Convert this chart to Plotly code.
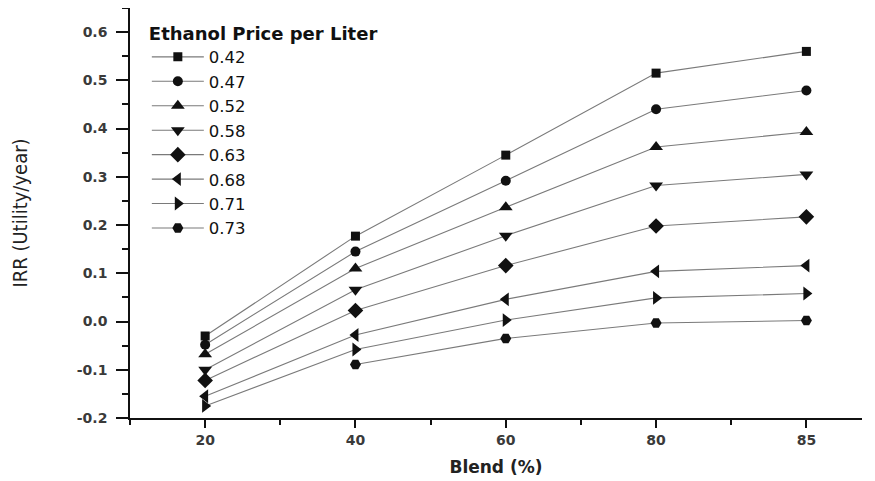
import plotly.graph_objects as go

blend_labels = ["20", "40", "60", "80", "85"]
prices = ["0.42", "0.47", "0.52", "0.58", "0.63", "0.68", "0.71", "0.73"]
irr_042 = [-0.030, 0.177, 0.345, 0.515, 0.560]
irr_047 = [-0.048, 0.145, 0.292, 0.440, 0.479]
irr_052 = [-0.068, 0.110, 0.237, 0.362, 0.393]
irr_058 = [-0.100, 0.066, 0.178, 0.282, 0.305]
irr_063 = [-0.122, 0.023, 0.116, 0.198, 0.217]
irr_068 = [-0.155, -0.028, 0.046, 0.104, 0.116]
irr_071 = [-0.175, -0.058, 0.003, 0.049, 0.058]
irr_073 = [None, -0.089, -0.035, -0.003, 0.002]

series = [irr_042, irr_047, irr_052, irr_058, irr_063, irr_068, irr_071, irr_073]
symbols = ["square", "circle", "triangle-up", "triangle-down", "diamond",
           "triangle-left", "triangle-right", "hexagon2"]
sizes = [9, 10, 12, 12, 12, 12, 12, 11]

xpos = list(range(len(blend_labels)))

fig = go.Figure()
for name, vals, sym, sz in zip(prices, series, symbols, sizes):
    fig.add_trace(go.Scatter(
        x=xpos, y=vals, name=name, mode="lines+markers",
        line=dict(color="#7a7a7a", width=1.1),
        marker=dict(symbol=sym, size=sz, color="#111111"),
        connectgaps=False, cliponaxis=False,
    ))

tickfont = dict(size=14, color="#3a3a3a", family="DejaVu Sans", weight="bold")

# the page body adds an 8px offset, so the figure is sized to fit the remaining window
fig.update_layout(
    width=867, height=473,
    margin=dict(l=122, r=13, t=0, b=63),
    paper_bgcolor="white", plot_bgcolor="white",
    font=dict(family="DejaVu Sans", color="#222222"),
    legend=dict(
        x=0.023, y=0.98, xanchor="left", yanchor="top",
        title=dict(text="Ethanol Price per Liter",
                   font=dict(size=18, family="DejaVu Sans", color="#111111", weight="bold")),
        font=dict(size=16.5, family="DejaVu Sans", color="#111111"),
        itemwidth=52, bgcolor="rgba(0,0,0,0)", tracegroupgap=0,
    ),
    xaxis=dict(
        range=[-0.5, 4.37], tickmode="array", tickvals=xpos, ticktext=blend_labels,
        showgrid=False, zeroline=False, showline=True, linecolor="#111111", linewidth=1.5,
        ticks="outside", ticklen=8, tickcolor="#111111", tickwidth=1.5,
        tickfont=tickfont, automargin=False,
        minor=dict(ticks="outside", ticklen=5, tick0=-0.5, dtick=1, tickcolor="#111111"),
        title=dict(text="Blend (%)",
                   font=dict(size=17, color="#222222", family="DejaVu Sans", weight="bold"),
                   standoff=15),
    ),
    yaxis=dict(
        range=[-0.2, 0.65], tickmode="array",
        tickvals=[-0.2, -0.1, 0.0, 0.1, 0.2, 0.3, 0.4, 0.5, 0.6],
        ticktext=["-0.2", "-0.1", "0.0", "0.1", "0.2", "0.3", "0.4", "0.5", "0.6"],
        showgrid=False, zeroline=False, showline=True, linecolor="#111111", linewidth=1.5,
        ticks="outside", ticklen=12, tickcolor="#111111", tickwidth=1.5,
        tickfont=tickfont, automargin=False, ticklabelstandoff=6,
        minor=dict(ticks="outside", ticklen=6, tick0=-0.15, dtick=0.1, tickcolor="#111111"),
        title=dict(text="IRR (Utility/year)",
                   font=dict(size=20, color="#222222",
                             family="Liberation Sans Narrow, DejaVu Sans Condensed, sans-serif"),
                   standoff=52),
    ),
    showlegend=True,
)

fig.write_html("out.html")
